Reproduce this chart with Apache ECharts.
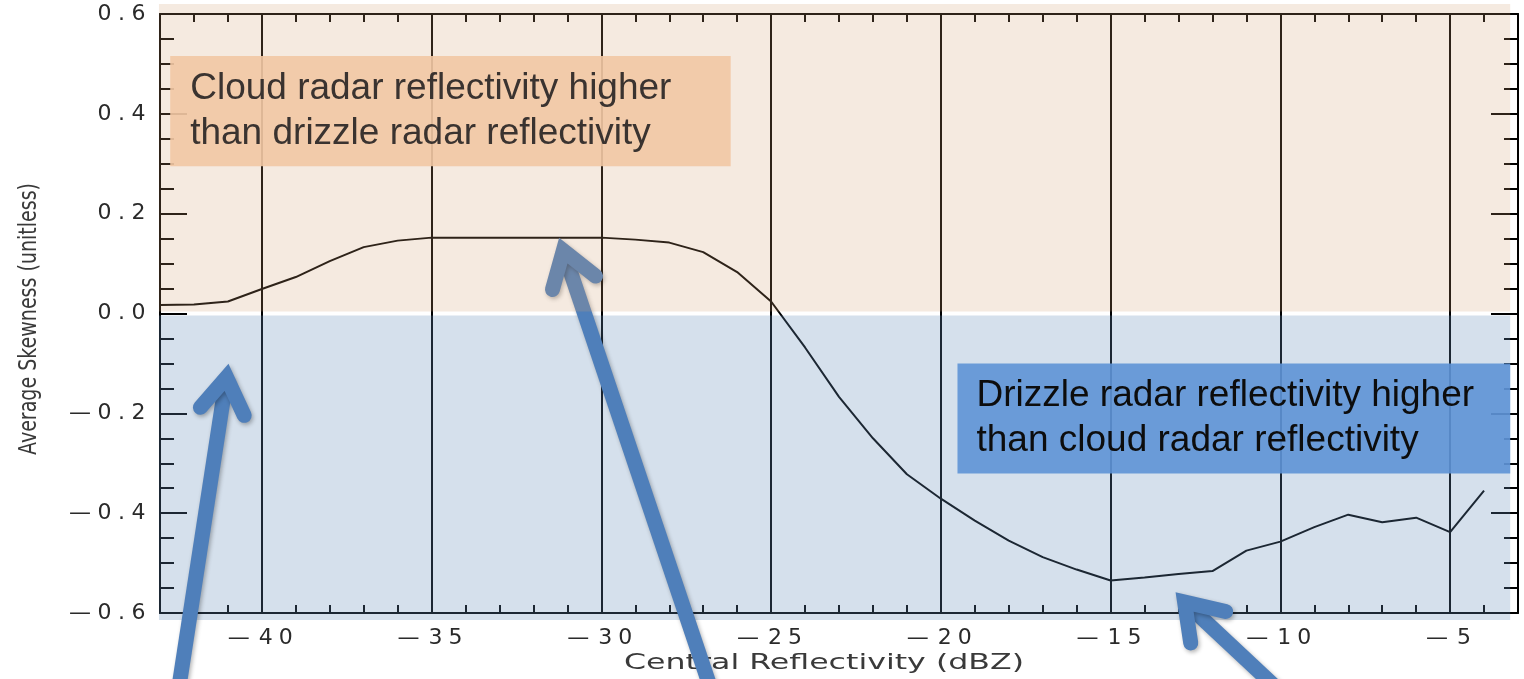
<!DOCTYPE html>
<html><head><meta charset="utf-8">
<script src="https://cdn.jsdelivr.net/npm/echarts@6/dist/echarts.min.js"></script>
<style>html,body{margin:0;padding:0;background:#fff}#c{width:1524px;height:679px}</style>
</head><body><div id="c"></div>
<script>
// ---- data ----
const reflectivity = [-43,-42,-41,-40,-39,-38,-37,-36,-35,-34,-33,-32,-31,-30,-29,-28,-27,-26,-25,-24,-23,-22,-21,-20,-19,-18,-17,-16,-15,-14,-13,-12,-11,-10,-9,-8,-7,-6,-5,-4];
const skewness = [0.017,0.018,0.024,0.049,0.073,0.105,0.133,0.146,0.152,0.152,0.152,0.152,0.152,0.152,0.148,0.142,0.123,0.083,0.024,-0.068,-0.167,-0.250,-0.322,-0.371,-0.415,-0.455,-0.488,-0.513,-0.535,-0.529,-0.522,-0.516,-0.475,-0.457,-0.428,-0.403,-0.418,-0.409,-0.438,-0.355];
const xLabelValues = [-40,-35,-30,-25,-20,-15,-10,-5];
const xRange = [-43, -3];
const yRange = [-0.6, 0.6];
const yStep = 0.2;
const xTitle = 'Central Reflectivity (dBZ)';
const yTitle = 'Average Skewness (unitless)';
const cloudNote = ['Cloud radar reflectivity higher', 'than drizzle radar reflectivity'];
const drizzleNote = ['Drizzle radar reflectivity higher', 'than cloud radar reflectivity'];
// annotation regions (data coordinates)
const cloudRegion = [[-43.03, 0.62], [-3.23, 0.004]];
const drizzleRegion = [[-43.03, -0.004], [-3.23, -0.614]];
const cloudBox = [[-42.7, 0.516], [-26.19, 0.295]];
const drizzleBox = [[-19.51, -0.100], [-3.23, -0.3205]];
// arrows (data coordinates)
const arrowTails = [[-42.48, -0.765], [-26.71, -0.765], [-9.88, -0.765]];
const arrowTips = [[-41.04, -0.128], [-31.12, 0.126], [-12.82, -0.578]];
const arrowBarbsLeft = [[-41.81, -0.188], [-31.44, 0.048], [-12.64, -0.660]];
const arrowBarbsRight = [[-40.52, -0.204], [-30.17, 0.075], [-11.61, -0.597]];

// ---- helpers ----
const xMinorTicks = [];
for (let v = xRange[0]; v <= xRange[1]; v++) xMinorTicks.push(v);

function spaced(v, digitKey, minusKey, decimals) {
  if (Math.abs(v) < 1e-9) v = 0;
  let s = v.toFixed(decimals);
  let out = '';
  for (const ch of s) {
    if (ch === '-') out += '{' + minusKey + '|\u2014}';
    else out += '{' + digitKey + '|' + ch + '}';
  }
  return out;
}
const labFont = { fontFamily: 'DejaVu Sans', fontSize: 22, fontWeight: 'normal', color: '#2a2a2a', lineHeight: 22 };

const chart = echarts.init(document.getElementById('c'), null, { renderer: 'canvas' });
const tickStyle = { color: '#000', width: 2 };
const option = {
  animation: false,
  backgroundColor: '#ffffff',
  grid: { left: 160, right: 6, top: 14, bottom: 66, containLabel: false },
  xAxis: [
    {
      type: 'value', min: xRange[0], max: xRange[1], position: 'bottom',
      axisLine: { show: true, onZero: false, lineStyle: { color: '#000', width: 2 } },
      axisTick: { show: true, inside: true, length: 8, customValues: xMinorTicks, lineStyle: tickStyle },
      axisLabel: {
        show: true, margin: 14, customValues: xLabelValues,
        fontFamily: 'DejaVu Sans', fontSize: 22, color: '#2a2a2a',
        formatter: v => spaced(v, 'd', 'm', 0),
        rich: {
          d: Object.assign({ width: 20, align: 'center' }, labFont),
          m: Object.assign({ width: 28, align: 'left' }, labFont)
        }
      },
      splitLine: { show: false }
    },
    {
      type: 'value', min: xRange[0], max: xRange[1], position: 'top',
      axisLine: { show: true, onZero: false, lineStyle: { color: '#000', width: 2 } },
      axisTick: { show: true, inside: true, length: 8, customValues: xMinorTicks, lineStyle: tickStyle },
      axisLabel: { show: false },
      splitLine: { show: false }
    }
  ],
  yAxis: [
    {
      type: 'value', min: yRange[0], max: yRange[1], interval: yStep, position: 'left',
      axisLine: { show: true, onZero: false, lineStyle: { color: '#000', width: 2 } },
      axisTick: { show: true, inside: true, length: 27, lineStyle: tickStyle },
      minorTick: { show: true, splitNumber: 4, length: 14, lineStyle: tickStyle },
      axisLabel: {
        show: true, margin: 13,
        fontFamily: 'DejaVu Sans', fontSize: 22, color: '#2a2a2a',
        formatter: v => spaced(v, 'd', 'm', 1),
        rich: {
          d: Object.assign({ width: 17, align: 'center' }, labFont),
          m: Object.assign({ width: 27, align: 'left' }, labFont)
        }
      },
      splitLine: { show: false }, minorSplitLine: { show: false }
    },
    {
      type: 'value', min: yRange[0], max: yRange[1], interval: yStep, position: 'right',
      axisLine: { show: true, onZero: false, lineStyle: { color: '#000', width: 2 } },
      axisTick: { show: true, inside: true, length: 27, lineStyle: tickStyle },
      minorTick: { show: true, splitNumber: 4, length: 14, lineStyle: tickStyle },
      axisLabel: { show: false },
      splitLine: { show: false }, minorSplitLine: { show: false }
    }
  ],
  series: [{
    type: 'line',
    xAxisIndex: 0, yAxisIndex: 0,
    data: reflectivity.map((x, i) => [x, skewness[i]]),
    showSymbol: false, symbol: 'none',
    lineStyle: { color: '#000', width: 2 },
    z: 3,
    markLine: {
      silent: true, symbol: ['none', 'none'], label: { show: false },
      lineStyle: { color: '#000', width: 2, type: 'solid' },
      emphasis: { disabled: true },
      data: xLabelValues.map(v => ({ xAxis: v }))
    }
  }]
};
chart.setOption(option);

const px = p => chart.convertToPixel({ gridIndex: 0 }, p);
function rectFrom(c) {
  const a = px(c[0]), b = px(c[1]);
  return { x: Math.min(a[0], b[0]), y: Math.min(a[1], b[1]), width: Math.abs(b[0] - a[0]), height: Math.abs(b[1] - a[1]) };
}
const mctx = document.createElement('canvas').getContext('2d');
function measure(text, font) { mctx.font = font; return mctx.measureText(text).width; }

const graphics = [];
// drizzle (blue) region overlay: above lines, below arrows
graphics.push({ type: 'rect', z: 10, silent: true, shape: rectFrom(drizzleRegion), style: { fill: 'rgba(102,142,185,0.275)' } });
// arrows
const arrowColor = '#4F7FBA';
for (let i = 0; i < arrowTips.length; i++) {
  const tail = px(arrowTails[i]), tip = px(arrowTips[i]);
  const bl = px(arrowBarbsLeft[i]), br = px(arrowBarbsRight[i]);
  const sh = { shadowBlur: 4, shadowColor: 'rgba(0,0,0,0.3)', shadowOffsetX: 1.5, shadowOffsetY: 2 };
  graphics.push({ type: 'polyline', z: 20, silent: true, shape: { points: [tail, tip] },
    style: Object.assign({ stroke: arrowColor, lineWidth: 15, lineCap: 'butt', fill: null }, sh) });
  graphics.push({ type: 'polyline', z: 21, silent: true, shape: { points: [bl, tip, br] },
    style: Object.assign({ stroke: arrowColor, lineWidth: 15, lineCap: 'round', lineJoin: 'miter', miterLimit: 10, fill: null }, sh) });
}
// cloud (peach) region overlay: above arrows
graphics.push({ type: 'rect', z: 30, silent: true, shape: rectFrom(cloudRegion), style: { fill: 'rgba(209,160,114,0.22)' } });
// note boxes
const cb = rectFrom(cloudBox), db = rectFrom(drizzleBox);
graphics.push({ type: 'rect', z: 40, silent: true, shape: cb, style: { fill: 'rgba(242,200,164,0.9)' } });
graphics.push({ type: 'text', z: 41, silent: true, x: cb.x + 20, y: cb.y + 10,
  style: { text: cloudNote.join('\n'), fontFamily: 'Liberation Sans, Arial', fontSize: 37, lineHeight: 45, fill: '#3a3330', align: 'left', verticalAlign: 'top' } });
graphics.push({ type: 'rect', z: 40, silent: true, shape: db, style: { fill: 'rgba(94,147,214,0.9)' } });
graphics.push({ type: 'text', z: 41, silent: true, x: db.x + 19, y: db.y + 10,
  style: { text: drizzleNote.join('\n'), fontFamily: 'Liberation Sans, Arial', fontSize: 37, lineHeight: 45, fill: '#0d0d0d', align: 'left', verticalAlign: 'top' } });
// axis titles
const xFont = '22px "DejaVu Sans"', yFont = '24px "DejaVu Sans"';
const xw = measure(xTitle, xFont), yw = measure(yTitle, yFont);
graphics.push({ type: 'text', z: 5, silent: true, x: 824, y: 663, scaleX: 400 / xw,
  style: { text: xTitle, fontFamily: 'DejaVu Sans', fontSize: 22, fill: '#3a3a3a', align: 'center', verticalAlign: 'middle' } });
graphics.push({ type: 'text', z: 5, silent: true, x: 30, y: 319, rotation: Math.PI / 2, scaleX: 272 / yw,
  style: { text: yTitle, fontFamily: 'DejaVu Sans', fontSize: 24, fill: '#3a3a3a', align: 'center', verticalAlign: 'middle' } });

chart.setOption({ graphic: graphics });
</script>
</body></html>
